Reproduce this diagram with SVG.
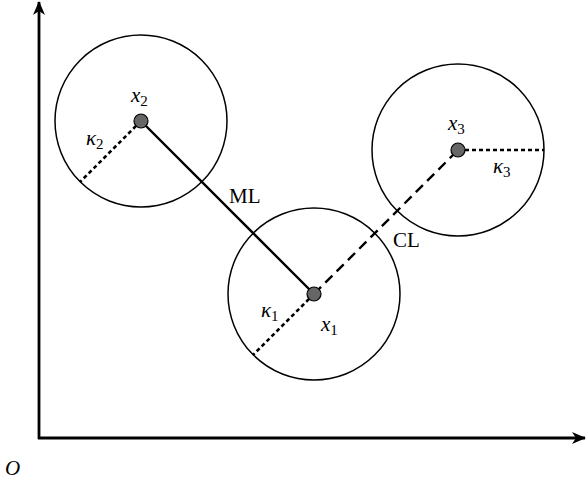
<svg xmlns="http://www.w3.org/2000/svg" width="586" height="483" viewBox="0 0 586 483">
<style>
.circ{fill:none;stroke:#000;stroke-width:1.5}
.axis{stroke:#000;stroke-width:2.8;fill:none}
.ml{stroke:#000;stroke-width:2.4}
.cl{stroke:#000;stroke-width:2.4;stroke-dasharray:10,6}
.rad{stroke:#000;stroke-width:2.6;stroke-dasharray:4,3}
.dot{fill:#666;stroke:#000;stroke-width:1.2}
text{font-family:"Liberation Serif","Times New Roman",serif;font-size:21px;fill:#000}
.m{font-style:italic}
.sub{font-size:15px;font-style:normal}
</style>
<defs>
<marker id="ah" markerWidth="14" markerHeight="12" refX="13" refY="6" orient="auto" markerUnits="userSpaceOnUse">
<path d="M0,0 L14,6 L0,12 L4,6 Z" fill="#000"/>
</marker>
</defs>
<g id="axes">
<line class="axis" x1="39" y1="439" x2="39" y2="2" marker-end="url(#ah)"/>
<line class="axis" x1="38" y1="438" x2="585" y2="438" marker-end="url(#ah)"/>
<text class="m" x="5" y="475">O</text>
</g>
<g id="circle2"><circle class="circ" cx="141" cy="121" r="86"/></g>
<g id="circle1"><circle class="circ" cx="314" cy="294" r="86"/></g>
<g id="circle3"><circle class="circ" cx="458" cy="150" r="86"/></g>
<g id="connectors">
<line class="ml" x1="141" y1="121" x2="314" y2="294"/>
<line class="cl" x1="314" y1="294" x2="458" y2="150"/>
<line class="rad" x1="141" y1="121" x2="80" y2="182"/>
<line class="rad" x1="314" y1="294" x2="253" y2="355"/>
<line class="rad" x1="458" y1="150" x2="544" y2="150"/>
<text x="229" y="203">ML</text>
<text x="393" y="247">CL</text>
</g>
<g id="x2">
<circle class="dot" cx="141" cy="121" r="7"/>
<text class="m" x="131" y="102">x<tspan class="sub" dy="4">2</tspan></text>
<text class="m" x="86" y="145">κ<tspan class="sub" dy="4">2</tspan></text>
</g>
<g id="x1">
<circle class="dot" cx="314" cy="294" r="7"/>
<text class="m" x="321" y="331">x<tspan class="sub" dy="4">1</tspan></text>
<text class="m" x="261" y="317">κ<tspan class="sub" dy="4">1</tspan></text>
</g>
<g id="x3">
<circle class="dot" cx="458" cy="150" r="7"/>
<text class="m" x="448" y="130">x<tspan class="sub" dy="4">3</tspan></text>
<text class="m" x="493" y="173">κ<tspan class="sub" dy="4">3</tspan></text>
</g>
</svg>
